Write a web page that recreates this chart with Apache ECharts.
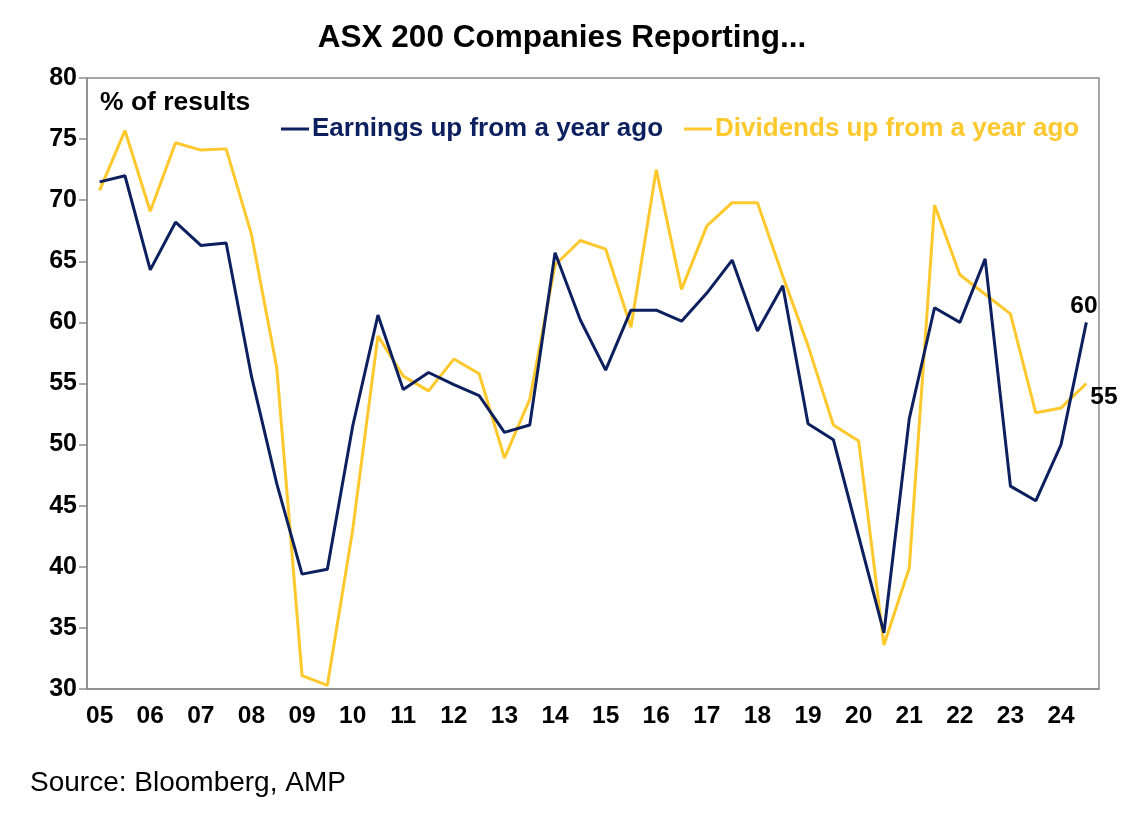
<!DOCTYPE html>
<html>
<head>
<meta charset="utf-8">
<script src="https://cdn.jsdelivr.net/npm/echarts@6/dist/echarts.min.js"></script>
<style>
html,body{margin:0;padding:0;background:#fff;}
#chart{width:1129px;height:826px;}
</style>
</head>
<body>
<div id="chart"></div>
<script>
// half-yearly reporting seasons, Feb and Aug
var years = ['05','06','07','08','09','10','11','12','13','14','15','16','17','18','19','20','21','22','23','24'];
var seasons = ['Feb','Aug'];

var earnings = [71.5, 72.0, 64.3, 68.2, 66.3, 66.5, 55.6, 46.8, 39.4, 39.8,
                51.5, 60.6, 54.5, 55.9, 54.9, 54.0, 51.0, 51.6, 65.7, 60.2,
                56.1, 61.0, 61.0, 60.1, 62.4, 65.1, 59.3, 63.0, 51.7, 50.4,
                42.5, 34.6, 52.1, 61.2, 60.0, 65.2, 46.6, 45.4, 50.0, 60.0];
var dividends = [70.8, 75.7, 69.1, 74.7, 74.1, 74.2, 67.2, 56.3, 31.1, 30.3,
                 43.0, 58.9, 55.6, 54.4, 57.0, 55.8, 48.9, 53.7, 64.7, 66.7,
                 66.0, 59.6, 72.5, 62.7, 67.9, 69.8, 69.8, 63.8, 58.1, 51.6,
                 50.3, 33.6, 39.9, 69.6, 63.9, 62.3, 60.7, 52.6, 53.0, 55.0];

var categories = [];
for (var i = 0; i < years.length; i++) {
    for (var j = 0; j < seasons.length; j++) {
        categories.push(seasons[j] + ' ' + years[i]);
    }
}

var FONT = '"Liberation Sans", Arial, sans-serif';
var NAVY = '#0c1f5e';
var GOLD = '#ffc82c';

var chart = echarts.init(document.getElementById('chart'));
var option = {
    animation: false,
    backgroundColor: '#fff',
    title: {
        text: 'ASX 200 Companies Reporting...',
        left: 557,
        top: 17,
        textAlign: 'center',
        textStyle: {fontFamily: FONT, fontSize: 31.5, fontWeight: 'bold', color: '#000'}
    },
    legend: {
        left: 276,
        top: 111,
        itemGap: 21,
        itemWidth: 28,
        itemHeight: 3,
        icon: 'rect',
        textStyle: {fontFamily: FONT, fontSize: 26, fontWeight: 'bold', padding: [0, 0, 0, -2]},
        data: [
            {name: 'Earnings up from a year ago', textStyle: {color: NAVY}},
            {name: 'Dividends up from a year ago', textStyle: {color: GOLD}}
        ]
    },
    grid: {
        left: 87, right: 30, top: 78, bottom: 137,
        show: true, borderColor: '#8c8c8c', borderWidth: 1.5
    },
    xAxis: {
        type: 'category',
        data: categories,
        boundaryGap: true,
        axisLine: {lineStyle: {color: '#8c8c8c', width: 1.5}},
        axisTick: {show: false},
        splitLine: {show: false},
        axisLabel: {
            interval: 1,
            margin: 15,
            fontFamily: FONT, fontSize: 24.5, fontWeight: 'bold', color: '#000',
            formatter: function (v) { return v.split(' ')[1]; }
        }
    },
    yAxis: {
        type: 'value',
        min: 30, max: 80, interval: 5,
        axisLine: {show: true, lineStyle: {color: '#8c8c8c', width: 1.5}},
        axisTick: {show: true, length: 8, lineStyle: {color: '#8c8c8c', width: 1.5}},
        splitLine: {show: false},
        axisLabel: {margin: 10, fontFamily: FONT, fontSize: 25, fontWeight: 'bold', color: '#000'}
    },
    graphic: [
        {
            type: 'text', left: 100, top: 89,
            style: {text: '% of results', font: 'bold 26.5px ' + FONT, fill: '#000'}
        },
        {
            type: 'text', left: 30, top: 769,
            style: {text: 'Source: Bloomberg, AMP', font: '28px ' + FONT, fill: '#000'}
        }
    ],
    series: [
        {
            name: 'Dividends up from a year ago',
            type: 'line',
            data: dividends,
            symbol: 'none',
            lineStyle: {color: GOLD, width: 3},
            itemStyle: {color: GOLD},
            endLabel: {
                show: true,
                offset: [-4, 14],
                formatter: function (p) { return Math.round(p.value); },
                fontFamily: FONT, fontSize: 24.5, fontWeight: 'bold', color: '#000'
            },
            z: 2
        },
        {
            name: 'Earnings up from a year ago',
            type: 'line',
            data: earnings,
            symbol: 'none',
            lineStyle: {color: NAVY, width: 3},
            itemStyle: {color: NAVY},
            endLabel: {
                show: true,
                offset: [-24, -16],
                formatter: function (p) { return Math.round(p.value); },
                fontFamily: FONT, fontSize: 24.5, fontWeight: 'bold', color: '#000'
            },
            z: 3
        }
    ]
};
chart.setOption(option);
</script>
</body>
</html>
